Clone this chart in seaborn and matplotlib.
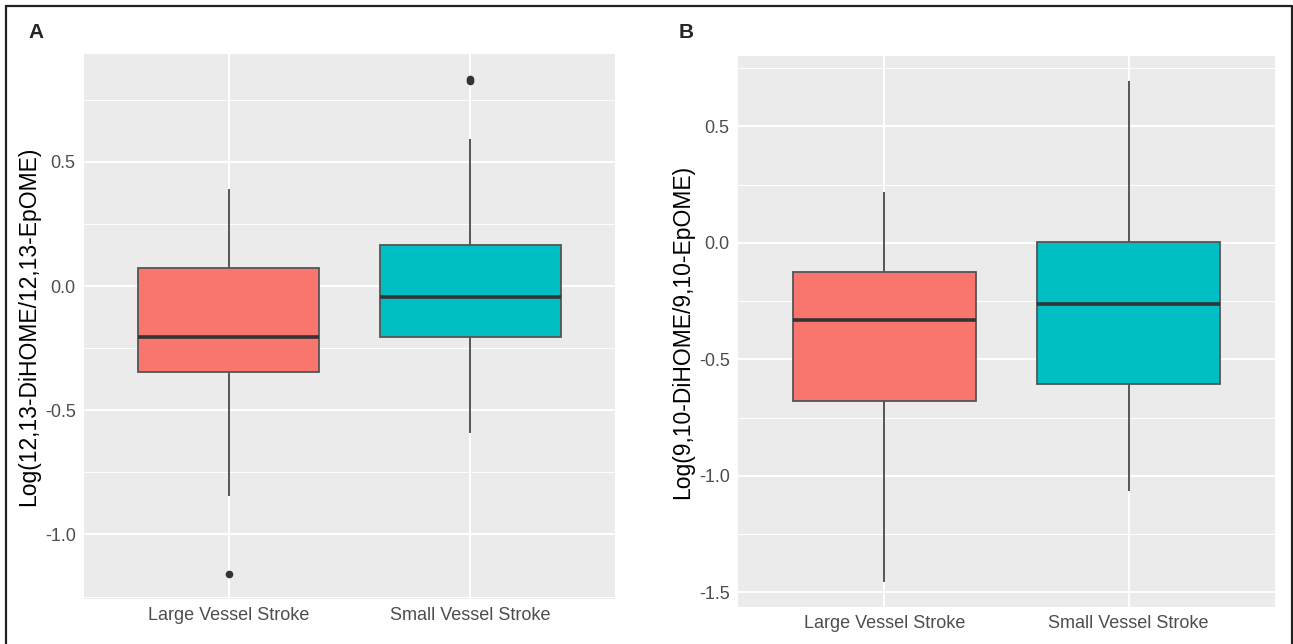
import numpy as np
import pandas as pd
import matplotlib
matplotlib.use("Agg")
import matplotlib.pyplot as plt
import seaborn as sns
from matplotlib.ticker import MultipleLocator, FormatStrFormatter
from matplotlib.lines import Line2D

# ---------------- data ----------------
groups = ["Large Vessel Stroke", "Small Vessel Stroke"]
colors = ["#F8766D", "#00BFC4"]

# five-number summaries: lower whisker, Q1, median, Q3, upper whisker
a_large = [-0.847, -0.347, -0.206, 0.073, 0.391]
a_small = [-0.593, -0.206, -0.044, 0.165, 0.593]
a_out_large = [-1.16]
a_out_small = [0.835, 0.828]

b_large = [-1.455, -0.678, -0.330, -0.124, 0.219]
b_small = [-1.064, -0.605, -0.262, 0.004, 0.695]
b_out_large = []
b_out_small = []

a_ylabel = "Log(12,13-DiHOME/12,13-EpOME)"
b_ylabel = "Log(9,10-DiHOME/9,10-EpOME)"
a_ticks = [-1.0, -0.5, 0.0, 0.5]
b_ticks = [-1.5, -1.0, -0.5, 0.0, 0.5]

# ---------------- style ----------------
sns.set_style("darkgrid", {"axes.facecolor": "#EBEBEB", "grid.color": "white"})
plt.rcParams["font.family"] = ["Liberation Sans", "DejaVu Sans"]
plt.rcParams["axes.unicode_minus"] = False

W, H = 1293, 644
fig = plt.figure(figsize=(W / 100, H / 100), dpi=100)
fig.patch.set_facecolor("white")


def panel(rect, box_lo, box_hi, out_lo, out_hi, ylabel, ticks, letter, letter_x):
    ax = fig.add_axes(rect)
    df = pd.DataFrame({
        "group": [groups[0]] * len(box_lo) + [groups[1]] * len(box_hi),
        "value": list(box_lo) + list(box_hi),
    })
    odf = pd.DataFrame({
        "group": [groups[0]] * len(out_lo) + [groups[1]] * len(out_hi),
        "value": list(out_lo) + list(out_hi),
    })
    sns.boxplot(data=df, x="group", y="value", hue="group", order=groups,
                hue_order=groups, palette=colors, saturation=1, width=0.75,
                whis=(0, 100), linecolor="#333333", linewidth=1.3, fliersize=0,
                showcaps=False, legend=False, ax=ax,
                medianprops=dict(linewidth=2.6, color="#333333"),
                whiskerprops=dict(color="#555555", linewidth=1.4),
                boxprops=dict(edgecolor="#555555"))
    if len(odf):
        sns.stripplot(data=odf, x="group", y="value", order=groups,
                      jitter=False, color="#333333", size=5.5, ax=ax, zorder=5)
    allv = list(box_lo) + list(box_hi) + list(out_lo) + list(out_hi)
    lo, hi = min(allv), max(allv)
    pad = 0.05 * (hi - lo)
    ax.set_ylim(lo - pad, hi + pad)
    ax.set_xlim(-0.6, 1.6)
    ax.set_yticks(ticks)
    ax.yaxis.set_major_formatter(FormatStrFormatter("%.1f"))
    ax.yaxis.set_minor_locator(MultipleLocator(0.25))
    ax.grid(True, which="major", color="white", linewidth=1.4)
    ax.grid(True, which="minor", axis="y", color="white", linewidth=0.7)
    ax.set_axisbelow(True)
    for s in ax.spines.values():
        s.set_visible(False)
    ax.tick_params(axis="both", which="major", length=4, width=1.0,
                   color="#333333", labelcolor="#4D4D4D", labelsize=13, pad=2)
    ax.tick_params(axis="both", which="minor", length=0)
    ax.set_xlabel("")
    ax.set_ylabel(ylabel, fontsize=16.5, color="black", labelpad=3)
    fig.text(letter_x / W, 1 - 38 / H, letter, fontsize=15, fontweight="bold",
             ha="left", va="baseline")
    return ax


panel([84 / W, 1 - 599 / H, (615 - 84) / W, (599 - 54) / H],
      a_large, a_small, a_out_large, a_out_small, a_ylabel, a_ticks, "A", 28)
panel([738 / W, 1 - 607 / H, (1275 - 738) / W, (607 - 56) / H],
      b_large, b_small, b_out_large, b_out_small, b_ylabel, b_ticks, "B", 679)

# outer frame
fx0, fx1, fy1 = 6 / W, 1291.5 / W, 1 - 5.5 / H
for xs, ys in [([fx0, fx0], [0, fy1]), ([fx0, fx1], [fy1, fy1]), ([fx1, fx1], [fy1, 0])]:
    fig.add_artist(Line2D(xs, ys, transform=fig.transFigure, color="#222222",
                          linewidth=1.6))

fig.savefig("out.png", dpi=100, facecolor="white")
